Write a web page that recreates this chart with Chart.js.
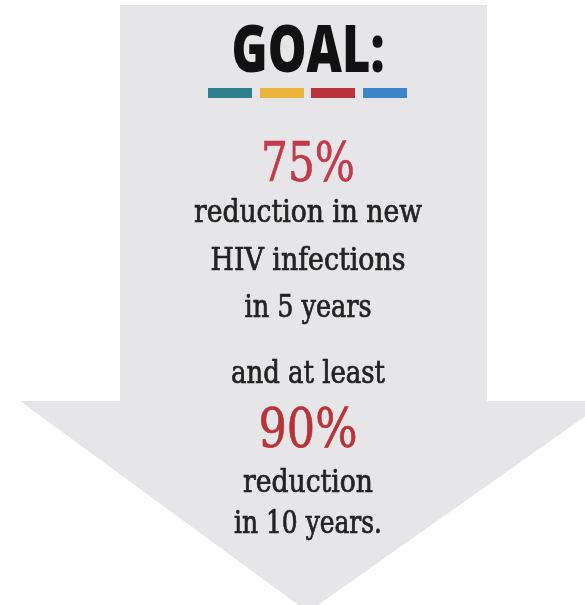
<!DOCTYPE html>
<html>
<head>
<meta charset="utf-8">
<script src="https://cdn.jsdelivr.net/npm/chart.js@4.4.1/dist/chart.umd.min.js"></script>
<style>
  html, body { margin: 0; padding: 0; background: #ffffff; }
  #wrap { width: 585px; height: 605px; }
</style>
</head>
<body>
<div id="wrap"><canvas id="goal" width="585" height="605"></canvas></div>
<script>
// contorno da seta (unidades do gráfico = pixels da figura)
const arrowX = [120, 487, 487, 607, 308, 20, 120, 120];
const arrowY = [5, 5, 401, 401, 612, 401, 401, 5];

// faixas coloridas abaixo do título
const stripeStart = [208, 260, 311, 363];
const stripeEnd = [252, 304, 355, 407];
const stripeColors = ["#2f7f8c", "#ecb53b", "#b9343b", "#3b86c9"];

// textos
const titleText = "GOAL:";
const bigNumbers = ["75%", "90%"];
const bodyLines = [
  "reduction in new",
  "HIV infections",
  "in 5 years",
  "and at least",
  "reduction",
  "in 10 years."
];

const stripeY = 93;

const datasets = [{
  type: "line",
  order: 5, // fica atrás das faixas
  data: arrowX.map((x, i) => ({ x, y: arrowY[i] })),
  backgroundColor: "#e6e6e8",
  borderColor: "#e6e6e8",
  borderWidth: 0,
  pointRadius: 0,
  tension: 0,
  fill: "shape",
}];

stripeColors.forEach((cor, i) => {
  datasets.push({
    type: "line",
    order: 1,
    showLine: true,
    data: [{ x: stripeStart[i], y: stripeY }, { x: stripeEnd[i], y: stripeY }],
    borderColor: cor,
    borderWidth: 10,
    borderCapStyle: "butt",
    pointRadius: 0,
    fill: false,
  });
});

const serif = "'DejaVu Serif Condensed', 'DejaVu Serif', serif";

// posição de cada texto: [texto, base y, largura, tamanho, peso, fonte, cor]
const textos = [
  [titleText, 72, 153, 66, "800", "'Open Sans', sans-serif", "#111111"],
  [bigNumbers[0], 181, 94, 55, "normal", serif, "#c23a4b"],
  [bodyLines[0], 222, 228, 31, "normal", serif, "#232323"],
  [bodyLines[1], 270, 195, 31, "normal", serif, "#232323"],
  [bodyLines[2], 317, 127, 31, "normal", serif, "#232323"],
  [bodyLines[3], 383, 154, 31, "normal", serif, "#232323"],
  [bigNumbers[1], 447, 99, 55, "normal", serif, "#b83336"],
  [bodyLines[4], 492, 130, 31, "normal", serif, "#232323"],
  [bodyLines[5], 533, 148, 31, "normal", serif, "#232323"],
];

const centroX = 308;

const textPlugin = {
  id: "textos",
  afterDatasetsDraw(chart) {
    const ctx = chart.ctx;
    const sx = chart.scales.x;
    const sy = chart.scales.y;
    textos.forEach(([txt, base, largura, tam, peso, fonte, cor]) => {
      ctx.save();
      ctx.font = `${peso} ${tam}px ${fonte}`;
      const w = ctx.measureText(txt).width;
      ctx.translate(sx.getPixelForValue(centroX), sy.getPixelForValue(base));
      ctx.scale(largura / w, 1);
      ctx.fillStyle = cor;
      ctx.strokeStyle = cor;
      ctx.lineWidth = fonte === serif ? 0.7 : 0;
      ctx.textAlign = "center";
      ctx.textBaseline = "alphabetic";
      ctx.fillText(txt, 0, 0);
      if (ctx.lineWidth > 0 && fonte === serif) ctx.strokeText(txt, 0, 0);
      ctx.restore();
    });
  }
};

new Chart(document.getElementById("goal").getContext("2d"), {
  type: "scatter",
  data: { datasets },
  options: {
    responsive: false,
    animation: false,
    devicePixelRatio: 1,
    layout: { padding: 0 },
    plugins: { legend: { display: false }, tooltip: { enabled: false } },
    scales: {
      x: { type: "linear", min: 0, max: 585, display: false },
      y: { type: "linear", min: 0, max: 605, reverse: true, display: false },
    },
  },
  plugins: [textPlugin],
});
</script>
</body>
</html>
